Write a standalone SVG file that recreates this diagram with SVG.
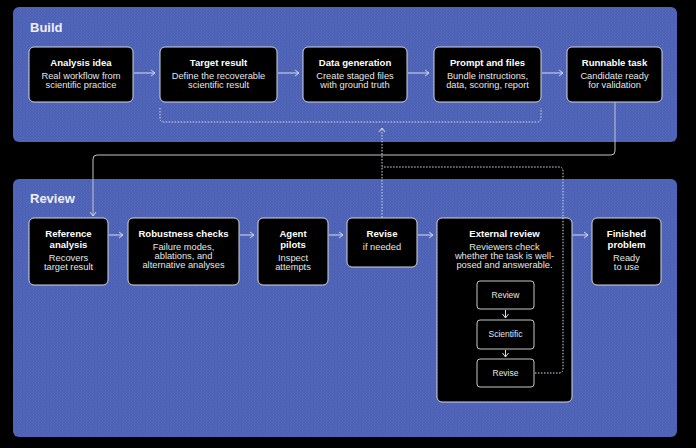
<svg xmlns="http://www.w3.org/2000/svg" width="696" height="448" viewBox="0 0 696 448">
<defs>
<pattern id="dots" width="3" height="3" patternUnits="userSpaceOnUse">
<rect width="3" height="3" fill="#4a5eb2"/>
<circle cx="0.75" cy="0.75" r="0.7" fill="#5a6ec2"/>
<circle cx="2.25" cy="2.25" r="0.7" fill="#5a6ec2"/>
</pattern>
<marker id="arr" markerWidth="6" markerHeight="8" refX="5" refY="4" orient="auto" markerUnits="userSpaceOnUse">
<path d="M1,1 L5,4 L1,7" fill="none" stroke="#d8dcec" stroke-width="1"/>
</marker>
</defs>
<style>
.panel{fill:url(#dots)}
.sec{font-family:"Liberation Sans",Arial,sans-serif;font-weight:bold;font-size:13px;fill:#eef0fa}
.box{fill:#000;stroke:#d4d6de;stroke-width:1}
.t{font-family:"Liberation Sans",Arial,sans-serif;font-weight:bold;font-size:9.6px;fill:#fff;text-anchor:middle}
.s{font-family:"Liberation Sans",Arial,sans-serif;font-size:9.3px;fill:#e6e6e6;text-anchor:middle}
.ib{fill:#000;stroke:#c8c8c8;stroke-width:1}
.it{font-family:"Liberation Sans",Arial,sans-serif;font-size:8.5px;fill:#e6e6e6;text-anchor:middle}
.flow{fill:none;stroke:#d8dcec;stroke-width:1;marker-end:url(#arr)}
.solid{fill:none;stroke:#c4c4c4;stroke-width:1}
.dash{fill:none;stroke:#d8dcec;stroke-width:1;stroke-dasharray:1.5 1.5}
</style>
<rect width="696" height="448" fill="#000"/>
<g id="build-panel">
<rect class="panel" x="13" y="7" width="664" height="135" rx="6"/>
<text class="sec" x="30" y="32">Build</text>
</g>
<g id="review-panel">
<rect class="panel" x="13" y="179" width="664" height="258" rx="6"/>
<text class="sec" x="30" y="203">Review</text>
</g>
<g id="analysis-idea">
<rect class="box" x="29" y="47" width="104" height="55" rx="5"/>
<text class="t" x="81" y="66">Analysis idea</text>
<text class="s" x="81" y="79">Real workflow from</text>
<text class="s" x="81" y="88">scientific practice</text>
</g>
<g id="target-result">
<rect class="box" x="160" y="47" width="117" height="55" rx="5"/>
<text class="t" x="218.5" y="66">Target result</text>
<text class="s" x="218.5" y="79">Define the recoverable</text>
<text class="s" x="218.5" y="88">scientific result</text>
</g>
<g id="data-generation">
<rect class="box" x="303" y="47" width="104" height="55" rx="5"/>
<text class="t" x="355" y="66">Data generation</text>
<text class="s" x="355" y="79">Create staged files</text>
<text class="s" x="355" y="88">with ground truth</text>
</g>
<g id="prompt-and-files">
<rect class="box" x="434" y="47" width="107" height="55" rx="5"/>
<text class="t" x="487.5" y="66">Prompt and files</text>
<text class="s" x="487.5" y="79">Bundle instructions,</text>
<text class="s" x="487.5" y="88">data, scoring, report</text>
</g>
<g id="runnable-task">
<rect class="box" x="567" y="47" width="95" height="55" rx="5"/>
<text class="t" x="614.5" y="66">Runnable task</text>
<text class="s" x="614.5" y="79">Candidate ready</text>
<text class="s" x="614.5" y="88">for validation</text>
</g>
<g id="reference-analysis">
<rect class="box" x="29" y="218" width="79" height="67" rx="5"/>
<text class="t" x="68.5" y="237">Reference</text>
<text class="t" x="68.5" y="248">analysis</text>
<text class="s" x="68.5" y="261">Recovers</text>
<text class="s" x="68.5" y="270">target result</text>
</g>
<g id="robustness-checks">
<rect class="box" x="128" y="218" width="111" height="67" rx="5"/>
<text class="t" x="183.5" y="237">Robustness checks</text>
<text class="s" x="183.5" y="250">Failure modes,</text>
<text class="s" x="183.5" y="259">ablations, and</text>
<text class="s" x="183.5" y="268">alternative analyses</text>
</g>
<g id="agent-pilots">
<rect class="box" x="258" y="218" width="70" height="67" rx="5"/>
<text class="t" x="293" y="237">Agent</text>
<text class="t" x="293" y="248">pilots</text>
<text class="s" x="293" y="261">Inspect</text>
<text class="s" x="293" y="270">attempts</text>
</g>
<g id="revise">
<rect class="box" x="347" y="218" width="70" height="49" rx="5"/>
<text class="t" x="382" y="237">Revise</text>
<text class="s" x="382" y="250">if needed</text>
</g>
<g id="external-review">
<rect class="box" x="437" y="218" width="135" height="184" rx="5"/>
<text class="t" x="504.5" y="237">External review</text>
<text class="s" x="504.5" y="250">Reviewers check</text>
<text class="s" x="504.5" y="259">whether the task is well-</text>
<text class="s" x="504.5" y="268">posed and answerable.</text>
</g>
<g id="inner-review">
<rect class="ib" x="477" y="281" width="57" height="28" rx="3"/>
<text class="it" x="505.5" y="298">Review</text>
</g>
<g id="inner-scientific">
<rect class="ib" x="477" y="320" width="57" height="29" rx="3"/>
<text class="it" x="505.5" y="337">Scientific</text>
</g>
<g id="inner-revise">
<rect class="ib" x="477" y="359" width="57" height="28" rx="3"/>
<text class="it" x="505.5" y="376">Revise</text>
</g>
<g id="finished-problem">
<rect class="box" x="592" y="218" width="69" height="67" rx="5"/>
<text class="t" x="626.5" y="237">Finished</text>
<text class="t" x="626.5" y="248">problem</text>
<text class="s" x="626.5" y="261">Ready</text>
<text class="s" x="626.5" y="270">to use</text>
</g>
<g id="connectors">
<path class="flow" d="M134,73 H155"/>
<path class="flow" d="M278,73 H299"/>
<path class="flow" d="M408,73 H429"/>
<path class="flow" d="M542,73 H563"/>
<path class="dash" d="M160,108 V118 Q160,122 164,122 H537 Q541,122 541,118 V108"/>
<path class="solid" d="M615,102.5 V151 Q615,155 611,155 H97 Q93,155 93,159 V216" marker-end="url(#arr)"/>
<path class="flow" d="M109,235 H123"/>
<path class="flow" d="M240,235 H254"/>
<path class="flow" d="M329,235 H343"/>
<path class="flow" d="M418,235 H433"/>
<path class="flow" d="M573,235 H588"/>
<path class="dash" d="M382,217.5 V128" marker-end="url(#arr)"/>
<path class="dash" d="M535,373 H559 Q563,373 563,369 V171 Q563,167 559,167 H382"/>
<path class="flow" d="M505.5,310 V318"/>
<path class="flow" d="M505.5,350 V357"/>
</g>
</svg>
